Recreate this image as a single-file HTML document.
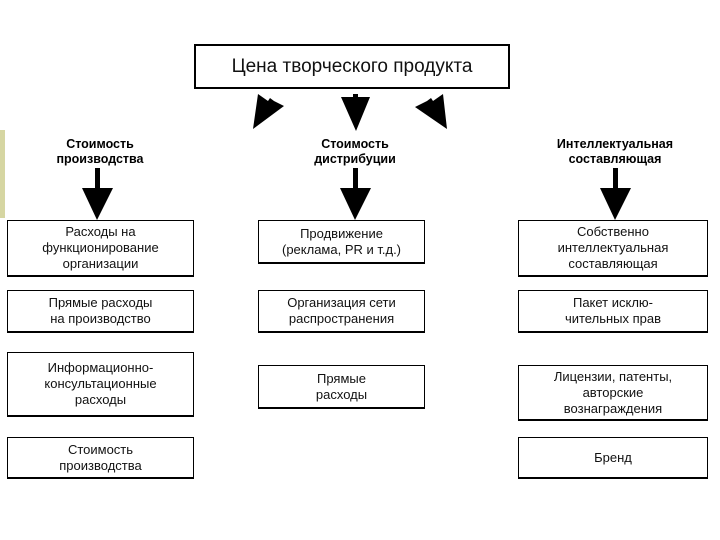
<!DOCTYPE html>
<html><head><meta charset="utf-8"><style>
body{margin:0;width:720px;height:540px;background:#fff;position:relative;font-family:"Liberation Sans",Arial,sans-serif;overflow:hidden}
.b{position:absolute;border:1.5px solid #000;border-bottom-width:2.5px;box-sizing:border-box;display:flex;align-items:center;justify-content:center;text-align:center;font-size:13px;line-height:16px;color:#111}
.h{position:absolute;text-align:center;font-weight:bold;font-size:12.5px;line-height:15px;width:200px}
</style></head><body>
<div style="position:absolute;left:0;top:130px;width:5px;height:88px;background:#d6d6a2"></div>
<div class="b" style="left:194px;top:44px;width:316px;height:45px;font-size:19px;border-width:2px">Цена творческого продукта</div>
<svg width="720" height="540" style="position:absolute;left:0;top:0">
<g fill="#000">
<polygon points="253,129 258,94 268,101 270,98 274,101 284,106"/>
<polygon points="341,97 353,97 353,94 358,94 358,97 370,97 356,131"/>
<polygon points="447,129 443,94 433,101 431,98 427,101 415,107"/>
<rect x="95" y="168" width="5" height="22"/><polygon points="82,188 113,188 97,220"/>
<rect x="353" y="168" width="5" height="22"/><polygon points="340,188 371,188 355,220"/>
<rect x="613" y="168" width="5" height="22"/><polygon points="600,188 631,188 615,220"/>
</g>
</svg>
<div class="h" style="left:0;top:137px">Стоимость<br>производства</div>
<div class="h" style="left:255px;top:137px">Стоимость<br>дистрибуции</div>
<div class="h" style="left:515px;top:137px">Интеллектуальная<br>составляющая</div>
<div class="b" style="left:7px;top:220px;width:187px;height:57px">Расходы на<br>функционирование<br>организации</div>
<div class="b" style="left:258px;top:220px;width:167px;height:44px">Продвижение<br>(реклама, PR и т.д.)</div>
<div class="b" style="left:518px;top:220px;width:190px;height:57px">Собственно<br>интеллектуальная<br>составляющая</div>
<div class="b" style="left:7px;top:290px;width:187px;height:43px">Прямые расходы<br>на производство</div>
<div class="b" style="left:258px;top:290px;width:167px;height:43px">Организация сети<br>распространения</div>
<div class="b" style="left:518px;top:290px;width:190px;height:43px">Пакет исклю-<br>чительных прав</div>
<div class="b" style="left:7px;top:352px;width:187px;height:65px">Информационно-<br>консультационные<br>расходы</div>
<div class="b" style="left:258px;top:365px;width:167px;height:44px">Прямые<br>расходы</div>
<div class="b" style="left:518px;top:365px;width:190px;height:56px">Лицензии, патенты,<br>авторские<br>вознаграждения</div>
<div class="b" style="left:7px;top:437px;width:187px;height:42px">Стоимость<br>производства</div>
<div class="b" style="left:518px;top:437px;width:190px;height:42px">Бренд</div>
</body></html>
